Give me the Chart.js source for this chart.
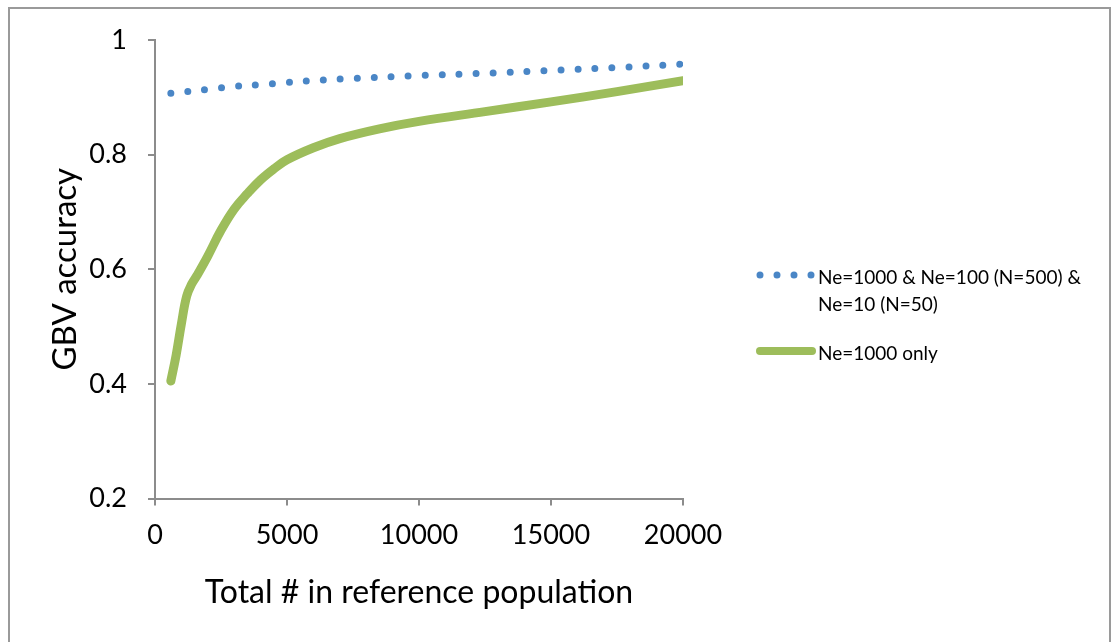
<!DOCTYPE html>
<html>
<head>
<meta charset="utf-8">
<script src="https://cdn.jsdelivr.net/npm/chart.js@4.4.1/dist/chart.umd.min.js"></script>
<style>
  html, body { margin: 0; padding: 0; background: #fff; }
  #wrap { width: 1118px; height: 642px; position: relative; }
</style>
</head>
<body>
<div id="wrap"><canvas id="grafico"></canvas></div>
<script>
// valores
var seriesNames = ["Ne=1000 & Ne=100 (N=500) & Ne=10 (N=50)", "Ne=1000 only"];
var xMixed = [600, 1000, 2000, 3000, 4000, 5000, 6000, 7500, 10000, 12500, 15000, 17500, 20000];
var yMixed = [0.907, 0.909, 0.914, 0.919, 0.922, 0.926, 0.929, 0.933, 0.938, 0.942, 0.947, 0.952, 0.958];
var xOnly = [600, 800, 1000, 1200, 1400, 1600, 2000, 2500, 3000, 3500, 4000, 4500, 5000, 6000, 7000, 8500, 10000, 12500, 15000, 17500, 20000];
var yOnly = [0.405, 0.45, 0.505, 0.553, 0.575, 0.59, 0.623, 0.668, 0.705, 0.732, 0.756, 0.775, 0.791, 0.812, 0.828, 0.845, 0.858, 0.875, 0.892, 0.910, 0.929];
var yTicks = [0.2, 0.4, 0.6, 0.8, 1];
var xTicks = [0, 5000, 10000, 15000, 20000];

var FONT = "Lato";
var AXIS = "#8c8c8c";

function puntos(xs, ys) {
    return xs.map(function (x, i) { return { x: x, y: ys[i] }; });
}

// leyenda propia a la derecha, con muestras de linea
var leyenda = {
    id: "leyenda",
    afterDatasetsDraw: function (chart) {
        var ctx = chart.ctx;
        ctx.save();
        ctx.font = "19px " + FONT;
        ctx.fillStyle = "#000";
        ctx.textBaseline = "middle";
        var y = 278;
        chart.data.datasets.forEach(function (ds, i) {
            // muestra
            ctx.beginPath();
            ctx.strokeStyle = ds.borderColor;
            ctx.lineWidth = ds.legendWidth;
            ctx.lineCap = "round";
            ctx.setLineDash(ds.borderDash || []);
            ctx.moveTo(760, y - 3);
            ctx.lineTo(812, y - 3);
            ctx.stroke();
            ctx.setLineDash([]);
            // texto con corte de linea
            var words = ds.label.split(" ");
            var line = "";
            var lines = [];
            words.forEach(function (w) {
                var t = line ? line + " " + w : w;
                if (ctx.measureText(t).width > 275 && line) { lines.push(line); line = w; }
                else line = t;
            });
            lines.push(line);
            lines.forEach(function (l, k) {
                ctx.fillText(l, 818, y + k * 27);
            });
            y += lines.length * 27 + 22;
        });
        ctx.restore();
    },
    beforeDraw: function (chart) {
        var ctx = chart.ctx;
        ctx.save();
        ctx.strokeStyle = "#9a9a9a";
        ctx.lineWidth = 2;
        ctx.strokeRect(9, 8, 1101, 650);
        ctx.restore();
    }
};

document.addEventListener("DOMContentLoaded", function () {
    var ctx = document.getElementById("grafico").getContext("2d");
    var myChart = new Chart(ctx, {
        type: "scatter",
        data: {
            datasets: [
                {
                    label: seriesNames[0],
                    data: puntos(xMixed, yMixed),
                    showLine: true,
                    borderColor: "#4a86c6",
                    backgroundColor: "#4a86c6",
                    borderWidth: 7,
                    legendWidth: 7,
                    borderDash: [0, 17],
                    borderCapStyle: "round",
                    pointRadius: 0,
                    tension: 0.4
                },
                {
                    label: seriesNames[1],
                    data: puntos(xOnly, yOnly),
                    showLine: true,
                    borderColor: "#9dbd5b",
                    backgroundColor: "#9dbd5b",
                    borderWidth: 9,
                    legendWidth: 8,
                    borderCapStyle: "round",
                    borderJoinStyle: "round",
                    pointRadius: 0,
                    tension: 0.4
                }
            ]
        },
        options: {
            responsive: true,
            maintainAspectRatio: false,
            animation: false,
            layout: { padding: { left: 0, top: 40, right: 435, bottom: 0 } },
            plugins: {
                legend: { display: false },
                tooltip: { enabled: false }
            },
            scales: {
                x: {
                    type: "linear",
                    min: 0,
                    max: 20000,
                    afterBuildTicks: function (scale) {
                        scale.ticks = xTicks.map(function (v) { return { value: v }; });
                    },
                    afterFit: function (scale) { scale.height = 143.5; },
                    ticks: {
                        font: { family: FONT, size: 27 },
                        color: "#000",
                        padding: 14,
                        maxRotation: 0,
                        callback: function (v) { return String(v); }
                    },
                    grid: { drawOnChartArea: false, tickLength: 7, color: AXIS, lineWidth: 2 },
                    border: { color: AXIS, width: 2 },
                    title: {
                        display: true,
                        text: "Total # in reference population",
                        font: { family: FONT, size: 32 },
                        color: "#000",
                        padding: { top: 0, bottom: 30 }
                    }
                },
                y: {
                    min: 0.2,
                    max: 1,
                    afterBuildTicks: function (scale) {
                        scale.ticks = yTicks.map(function (v) { return { value: v }; });
                    },
                    afterFit: function (scale) { scale.width = 155; },
                    ticks: {
                        font: { family: FONT, size: 27 },
                        color: "#000",
                        padding: 21,
                        callback: function (v) { return String(Number(v.toFixed(1))); }
                    },
                    grid: { drawOnChartArea: false, tickLength: 7, color: AXIS, lineWidth: 2 },
                    border: { color: AXIS, width: 2 },
                    title: {
                        display: true,
                        text: "GBV accuracy",
                        font: { family: FONT, size: 33 },
                        color: "#000",
                        padding: { top: 46, bottom: 0 }
                    }
                }
            }
        },
        plugins: [leyenda]
    });
});
</script>
</body>
</html>
